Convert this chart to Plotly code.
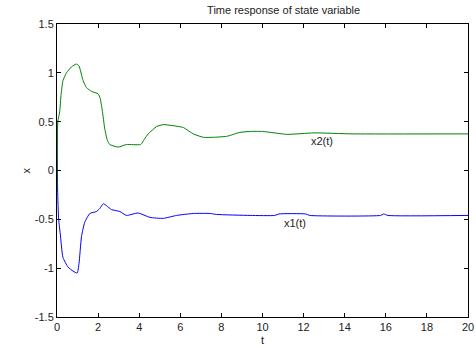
import plotly.graph_objects as go

t_x1 = [0, 0.03, 0.08, 0.16, 0.29, 0.54, 0.78, 0.98, 1.07, 1.19, 1.35, 1.6, 1.92, 2.08, 2.25,
        2.41, 2.65, 3.06, 3.38, 3.95, 4.52, 5.17, 5.82, 6.63, 7.45, 7.77, 9.4, 10.6, 10.8,
        12.1, 12.3, 15.75, 15.9, 16.1, 20]
x1 = [0.5, -0.2, -0.5, -0.65, -0.89, -0.99, -1.03, -1.05, -0.955, -0.68, -0.53, -0.44, -0.42,
      -0.39, -0.34, -0.36, -0.40, -0.42, -0.46, -0.435, -0.48, -0.49, -0.46, -0.44, -0.44,
      -0.45, -0.46, -0.46, -0.445, -0.445, -0.46, -0.46, -0.445, -0.46, -0.46]

t_x2 = [0, 0.04, 0.13, 0.2, 0.29, 0.46, 0.7, 0.94, 1.07, 1.27, 1.43, 1.68, 2.0, 2.1, 2.2,
        2.33, 2.45, 2.57, 2.98, 3.38, 4.07, 4.25, 4.44, 4.85, 5.17, 5.6, 6.15, 6.63, 7.12,
        7.6, 8.26, 8.9, 9.4, 10.0, 10.4, 11.2, 12.5, 14.4, 20]
x2 = [-0.2, 0.5, 0.6, 0.78, 0.92, 1.0, 1.06, 1.09, 1.07, 0.92, 0.85, 0.81, 0.785, 0.74,
      0.62, 0.42, 0.31, 0.266, 0.24, 0.266, 0.266, 0.32, 0.375, 0.45, 0.47, 0.46, 0.44,
      0.375, 0.34, 0.34, 0.35, 0.39, 0.40, 0.40, 0.39, 0.37, 0.385, 0.375, 0.375]

x_ticks = [0, 2, 4, 6, 8, 10, 12, 14, 16, 18, 20]
y_ticks = [-1.5, -1, -0.5, 0, 0.5, 1, 1.5]
y_tick_labels = ["-1.5", "-1", "-0.5", "0", "0.5", "1", "1.5"]

labels = [("x1(t)", 11.6, -0.54), ("x2(t)", 12.9, 0.30)]

font = "Liberation Sans, Arial, sans-serif"
txtcol = "#222"

fig = go.Figure()
fig.add_trace(go.Scatter(x=t_x1, y=x1, mode="lines", line=dict(color="rgb(0,0,255)", width=1, shape="spline", smoothing=0.5)))
fig.add_trace(go.Scatter(x=t_x2, y=x2, mode="lines", line=dict(color="rgb(0,128,0)", width=1, shape="spline", smoothing=0.5)))

for txt, tx, ty in labels:
    fig.add_annotation(x=tx, y=ty, text=txt, showarrow=False, font=dict(family=font, size=11, color=txtcol))

# axis titles
fig.add_annotation(x=0.5, xref="paper", y=-(340 - 317) / 293, yref="paper", yanchor="middle",
                   text="t", showarrow=False, font=dict(family=font, size=11, color=txtcol))
fig.add_annotation(x=-40 / 411, xref="paper", y=0.5, yref="paper", text="x", textangle=-90,
                   showarrow=False, font=dict(family=font, size=11, color=txtcol))

axis_common = dict(showline=True, linecolor="black", linewidth=1, mirror="ticks",
                   ticks="inside", ticklen=4, tickcolor="black", showgrid=False, zeroline=False,
                   automargin=False, tickfont=dict(family=font, size=11, color=txtcol))

fig.update_layout(
    width=476, height=348,
    margin=dict(l=57, r=8, t=24, b=31),
    paper_bgcolor="white", plot_bgcolor="white",
    showlegend=False,
    title=dict(text="Time response of state variable", x=(57 + 468) / 2 / 476, xanchor="center",
               xref="paper", y=1 - 10 / 348, yref="container", yanchor="middle",
               font=dict(family=font, size=11, color=txtcol)),
    xaxis=dict(range=[0, 20], tickvals=x_ticks, **axis_common),
    yaxis=dict(range=[-1.5, 1.5], tickvals=y_ticks, ticktext=y_tick_labels, **axis_common),
)

fig.write_html("out.html", config={"displayModeBar": False},
               post_script="document.body.style.margin='0';")
